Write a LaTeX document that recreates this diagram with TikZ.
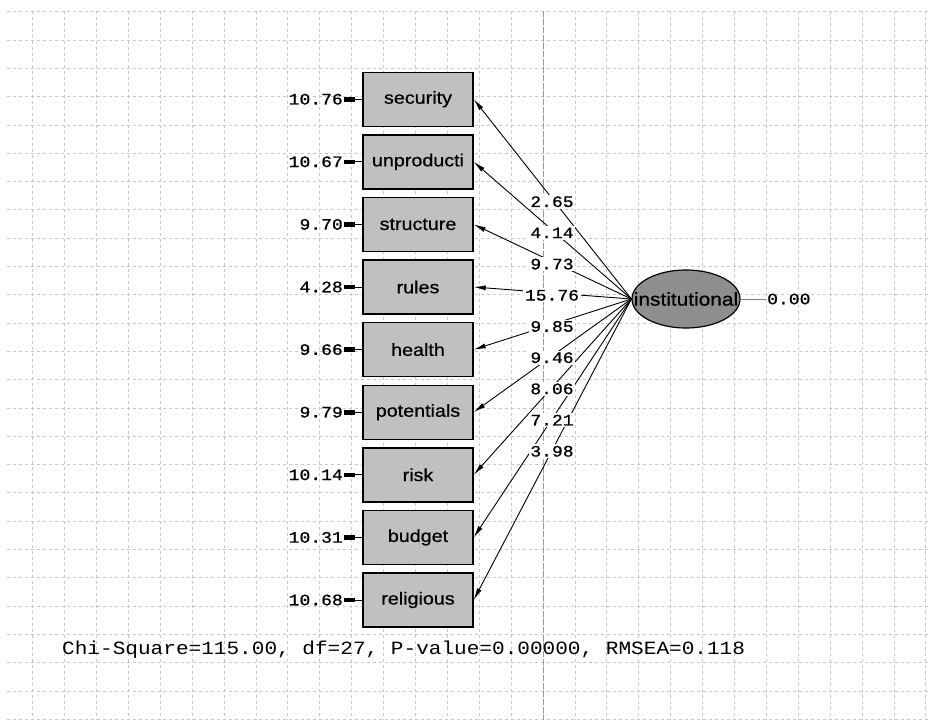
\documentclass[tikz,border=0pt]{standalone}
\usepackage{fontspec}
\usetikzlibrary{arrows.meta,shapes.geometric}
\newfontfamily\boxfont[FakeStretch=1.127,FakeBold=0.6]{Liberation Sans}
\newfontfamily\numfont[FakeStretch=1.127,FakeBold=0.8]{Liberation Mono}
\newfontfamily\fitfont[FakeStretch=1.127]{Liberation Mono}
\definecolor{boxGray}{RGB}{192,192,192}
\definecolor{latentGray}{RGB}{142,142,142}
\definecolor{gridGray}{RGB}{200,200,200}

\begin{document}
\begin{tikzpicture}[x=1pt,y=-1pt,
    gridline/.style={gridGray, line width=0.8pt, dash pattern=on 3pt off 3pt},
    indicator/.style={draw, line width=1.4pt, fill=boxGray, minimum width=110pt,
      minimum height=54pt, inner sep=0pt, font=\boxfont\fontsize{17.5}{18}\selectfont},
    latent/.style={ellipse, draw, line width=1.2pt, fill=latentGray, minimum width=108pt,
      minimum height=58pt, inner sep=0pt},
    errnum/.style={anchor=east, inner sep=1pt, font=\numfont\fontsize{16}{16}\selectfont},
    loadnum/.style={fill=white, inner sep=1.5pt, font=\numfont\fontsize{16}{16}\selectfont},
    loading/.style={line width=0.9pt, -{Latex[length=12pt,width=5pt]}},
    errarrow/.style={line width=0.9pt, {Rectangle[length=11pt,width=4.5pt]}-}]
  \useasboundingbox (0,0) rectangle (938,723);
  \fill[white] (0,0) rectangle (938,723);

  % Grid
  \foreach \i in {0,...,28}
    \draw[gridline] (32.6+31.9*\i,11) -- (32.6+31.9*\i,720);
  \foreach \j in {0,...,25}
    \draw[gridline] (7,11.7+28.3*\j) -- (930,11.7+28.3*\j);
  \draw[gray!80, line width=0.9pt, dash pattern=on 6pt off 2pt] (543,11) -- (543,720);

  % Latent variable
  \node[latent, label={[font=\boxfont\fontsize{18.5}{19}\selectfont]center:institutional}] (inst) at (686,299) {};
  \node[errnum, anchor=west] (instvar) at (766,299) {0.00};
  \draw[gray, line width=0.8pt] (inst.east) -- (instvar.west);

  % Indicators, error variances and loadings
  \foreach \name/\err [count=\k from 0] in {security/10.76, unproducti/10.67,
      structure/9.70, rules/4.28, health/9.66, potentials/9.79,
      risk/10.14, budget/10.31, religious/10.68} {
    \node[indicator] (\name) at (418,99.2+62.6*\k) {\name};
    \node[errnum] (err\name) at (344,99.2+62.6*\k) {\err};
    \draw[errarrow] (err\name.east) -- (\name.west);
    \draw[loading] (inst.west) -- (\name.east);
  }
  \foreach \name/\load [count=\k from 0] in {security/2.65, unproducti/4.14,
      structure/9.73, rules/15.76, health/9.85, potentials/9.46,
      risk/8.06, budget/7.21, religious/3.98}
    \node[loadnum] (load\name) at (552,201.7+31.2*\k) {\load};

  % Fit statistics
  \node[anchor=west, inner sep=0pt, font=\fitfont\fontsize{18.7}{19}\selectfont] (fit) at (62,650)
    {Chi-Square=115.00, df=27, P-value=0.00000, RMSEA=0.118};
\end{tikzpicture}
\end{document}
